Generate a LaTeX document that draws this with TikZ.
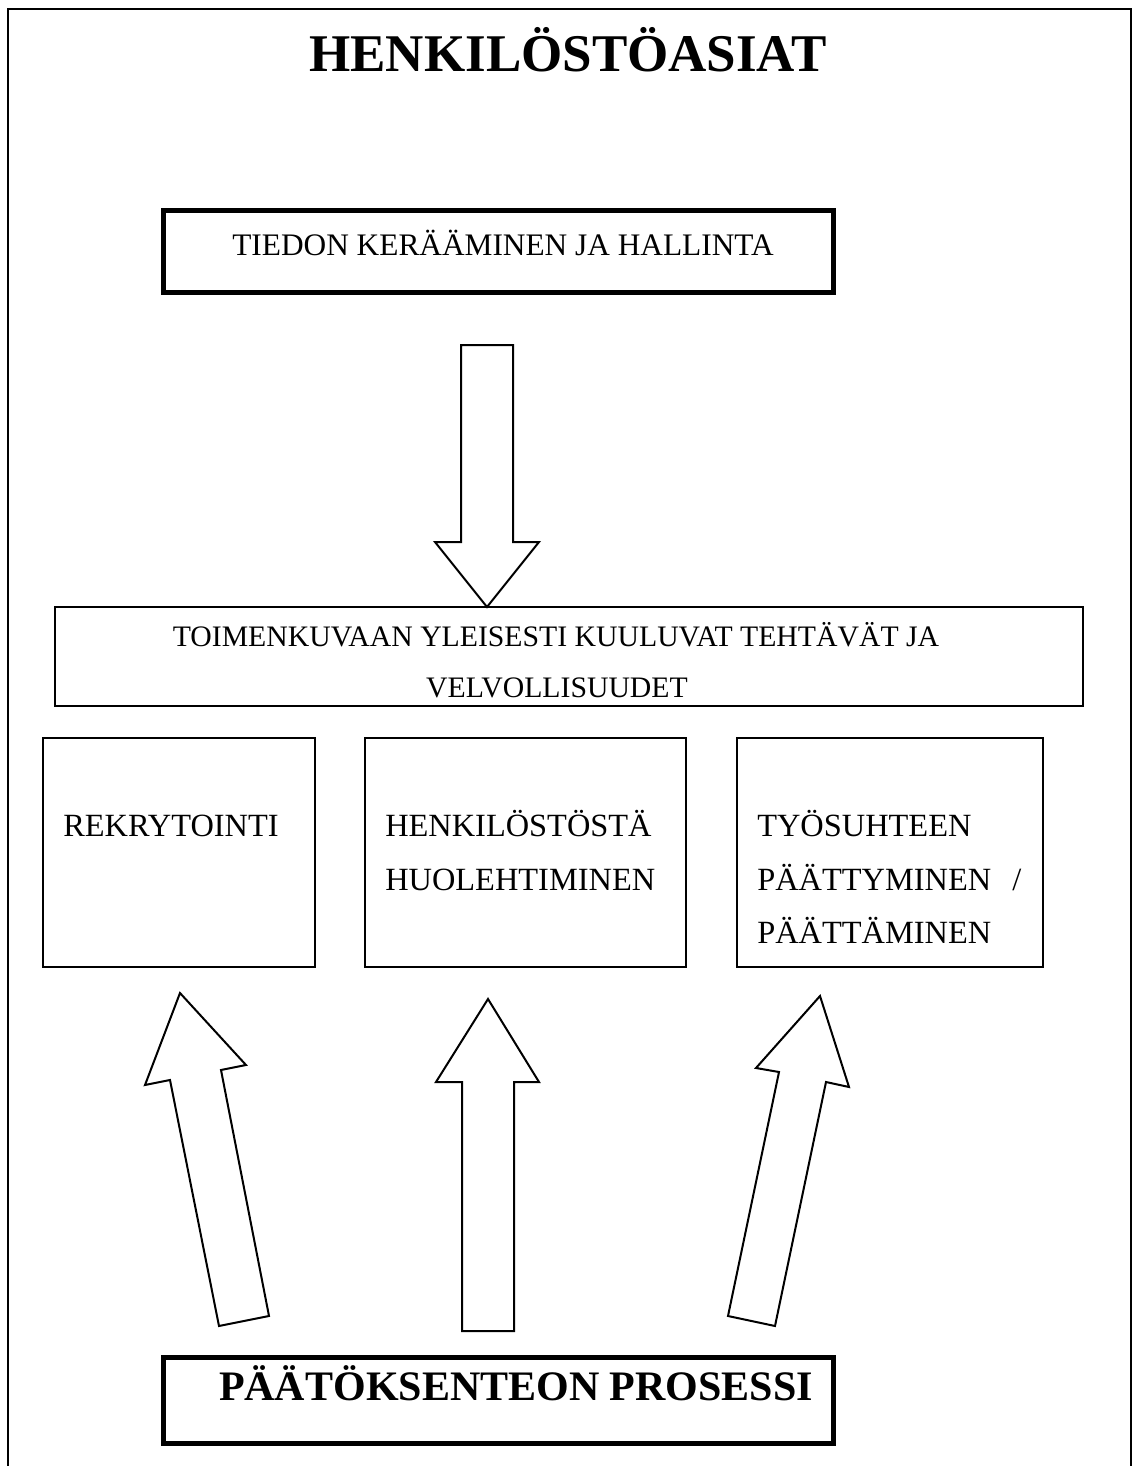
\documentclass[tikz,border=0pt]{standalone}
\usepackage{fontspec}
\setmainfont{Liberation Serif}
\begin{document}
\begin{tikzpicture}[x=0.75pt,y=-0.75pt,
  thinbox/.style={draw,line width=1.5pt,inner sep=0pt,fill=white},
  thickbox/.style={draw,line width=3.75pt,inner sep=0pt,fill=white},
  bodytext/.style={inner sep=0pt,font=\fontsize{24.3}{28}\selectfont},
  toptextstyle/.style={inner sep=0pt,font=\fontsize{23.5}{28}\selectfont},
  widetext/.style={inner sep=0pt,font=\fontsize{22.3}{28}\selectfont},
  blockarrow/.style={draw,line width=1.5pt,fill=white,line join=miter}]
\useasboundingbox (0,0) rectangle (1138,1466);
% outer frame
\coordinate (fbl) at (8,1470);
\coordinate (ftl) at (8,9);
\coordinate (ftr) at (1131,9);
\coordinate (fbr) at (1131,1470);
\draw[line width=1.5pt] (fbl) -- (ftl) -- (ftr) -- (fbr);
% title
\node[inner sep=0pt,anchor=base,font=\fontsize{39.75}{44}\selectfont\bfseries] (title) at (568,72) {HENKILÖSTÖASIAT};
% top box
\node[thickbox,minimum width=502.5pt,minimum height=61.5pt] (top) at (498,251) {};
\node[toptextstyle,anchor=base] (toptext) at (503,255) {TIEDON KERÄÄMINEN JA HALLINTA};
% wide box
\node[thinbox,minimum width=771pt,minimum height=74.25pt] (wide) at (569,656.5) {};
\node[widetext,anchor=base] (wide1) at (556,646) {TOIMENKUVAAN YLEISESTI KUULUVAT TEHTÄVÄT JA};
\node[widetext,anchor=base] (wide2) at (557,697) {VELVOLLISUUDET};
% down arrow
\draw[blockarrow] (461,345) -- (513,345) -- (513,542) -- (539,542) -- (487,607) -- (435,542) -- (461,542) -- cycle;
% three boxes
\node[thinbox,minimum width=204pt,minimum height=171.75pt] (b1) at (179,852.5) {};
\node[thinbox,minimum width=240.75pt,minimum height=171.75pt] (b2) at (525.5,852.5) {};
\node[thinbox,minimum width=229.5pt,minimum height=171.75pt] (b3) at (890,852.5) {};
\node[bodytext,anchor=base west] (b1t1) at (63,836) {REKRYTOINTI};
\node[bodytext,anchor=base west] (b2t1) at (385,836) {HENKILÖSTÖSTÄ};
\node[bodytext,anchor=base west] (b2t2) at (385,890) {HUOLEHTIMINEN};
\node[bodytext,anchor=base west] (b3t1) at (757,836) {TYÖSUHTEEN};
\node[bodytext,anchor=base west] (b3t2) at (757,890) {PÄÄTTYMINEN\hspace{0.65em}/};
\node[bodytext,anchor=base west] (b3t3) at (757,943) {PÄÄTTÄMINEN};
% up arrows
\draw[blockarrow] (180,993) -- (246,1065) -- (221,1070) -- (269,1316) -- (219,1326) -- (170,1080) -- (145,1085) -- cycle;
\draw[blockarrow] (488,999) -- (539,1082) -- (514,1082) -- (514,1331) -- (462,1331) -- (462,1082) -- (436,1082) -- cycle;
\draw[blockarrow] (820,996) -- (849,1087) -- (826,1082) -- (775,1326) -- (728,1316) -- (779,1072) -- (756,1068) -- cycle;
% bottom box
\node[thickbox,minimum width=502.5pt,minimum height=64.5pt] (bottom) at (498,1400) {};
\node[inner sep=0pt,anchor=base,font=\fontsize{31.5}{36}\selectfont\bfseries] (bottomtext) at (516,1400) {PÄÄTÖKSENTEON PROSESSI};
\end{tikzpicture}
\end{document}
